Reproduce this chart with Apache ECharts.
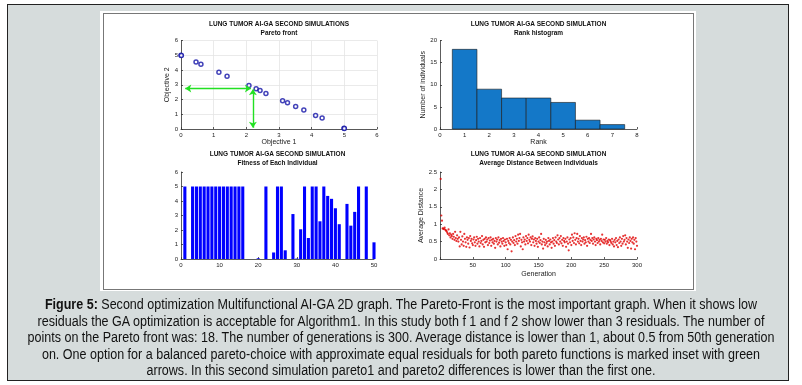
<!DOCTYPE html>
<html><head><meta charset="utf-8">
<script src="https://cdn.jsdelivr.net/npm/echarts@6/dist/echarts.min.js"></script>
<style>
html,body{margin:0;padding:0;background:#fff;}
#wrap{position:relative;width:802px;height:385px;overflow:hidden;}
#outer{position:absolute;left:7px;top:4px;width:780px;height:375px;background:#d6dcdc;border:1.5px solid #222;}
#white{position:absolute;left:100px;top:11px;width:596px;height:280px;background:#fff;}
#inner{position:absolute;left:103px;top:13px;width:589px;height:275px;border:1px solid #777;}
#c{position:absolute;left:0;top:0;width:802px;height:385px;}
#cap{position:absolute;left:-99px;top:296px;width:1000px;text-align:center;white-space:nowrap;font-family:"Liberation Sans",Arial,sans-serif;font-size:14px;line-height:16.5px;color:#111;transform:scaleX(0.895);transform-origin:50% 0;}
</style>
</head><body>
<div id="wrap"><div id="outer"></div><div id="white"></div><div id="inner"></div><div id="c"></div><div id="cap"></div></div>
<script>
// ---- data ----
const paretoF1 = [0, 0.01, 0.46, 0.61, 1.16, 1.41, 2.08, 2.30, 2.42, 2.60, 3.11, 3.26, 3.51, 3.76, 4.12, 4.32, 4.99, 5.0];
const paretoF2 = [5.0, 4.99, 4.55, 4.39, 3.85, 3.58, 2.95, 2.73, 2.61, 2.41, 1.91, 1.78, 1.53, 1.28, 0.92, 0.74, 0.05, 0.03];
const arrowHorizontal = [[0.13, 2.75], [2.14, 2.75]];
const arrowVertical = [[2.2, 2.7], [2.2, 0.08]];
const rankValues = [1, 2, 3, 4, 5, 6, 7];
const rankCounts = [18, 9, 7, 7, 6, 2, 1];
const fitnessIndex = [1,2,3,4,5,6,7,8,9,10,11,12,13,14,15,16,17,18,19,20,21,22,23,24,25,26,27,28,29,30,31,32,33,34,35,36,37,38,39,40,41,42,43,44,45,46,47,48,49,50];
const fitnessValues = [5,0,5,5,5,5,5,5,5,5,5,5,5,5,5,5,0,0,0,0.05,0,5,0,0.45,5,5,0.6,0,3.1,0.03,2.05,5,1.45,5,5,2.6,5,4.35,4.15,3.5,2.4,0,3.8,2.3,3.25,5,0,5,0,1.15];
const avgDistance = [
2.3,1.25,1.1,0.88,0.87,0.86,0.9,0.84,0.82,0.8,
0.76,0.72,0.85,0.68,0.74,0.62,0.7,0.66,0.58,0.72,
0.64,0.55,0.78,0.6,0.52,0.68,0.58,0.5,0.62,0.36,
0.78,0.55,0.42,0.65,0.5,0.38,0.72,0.58,0.48,0.35,
0.62,0.55,0.44,0.6,0.33,0.66,0.52,0.58,0.45,0.4,
0.56,0.62,0.48,0.38,0.54,0.64,0.44,0.58,0.5,0.36,
0.6,0.46,0.52,0.66,0.42,0.55,0.35,0.58,0.48,0.62,
0.5,0.56,0.4,0.6,0.46,0.53,0.62,0.38,0.55,0.48,
0.58,0.44,0.52,0.32,0.6,0.5,0.56,0.42,0.62,0.47,
0.54,0.36,0.58,0.5,0.44,0.6,0.52,0.38,0.56,0.48,
0.4,0.58,0.28,0.52,0.46,0.6,0.42,0.55,0.22,0.5,
0.62,0.46,0.54,0.4,0.66,0.5,0.58,0.44,0.7,0.52,
0.6,0.72,0.36,0.55,0.48,0.28,0.62,0.5,0.56,0.42,
0.66,0.52,0.6,0.45,0.7,0.55,0.5,0.62,0.4,0.58,
0.65,0.48,0.56,0.38,0.6,0.52,0.44,0.58,0.35,0.5,
0.62,0.46,0.54,0.72,0.42,0.5,0.3,0.58,0.48,0.4,
0.55,0.45,0.5,0.36,0.6,0.52,0.42,0.56,0.48,0.32,
0.5,0.6,0.44,0.54,0.38,0.62,0.5,0.46,0.68,0.56,
0.42,0.6,0.5,0.66,0.45,0.55,0.38,0.6,0.52,0.48,
0.58,0.35,0.5,0.62,0.44,0.25,0.56,0.48,0.6,0.4,
0.7,0.52,0.62,0.46,0.74,0.55,0.42,0.6,0.72,0.5,
0.58,0.45,0.66,0.52,0.4,0.6,0.5,0.56,0.62,0.44,
0.54,0.48,0.64,0.38,0.58,0.5,0.6,0.46,0.55,0.72,
0.52,0.6,0.44,0.56,0.62,0.5,0.4,0.58,0.54,0.46,
0.6,0.5,0.55,0.42,0.58,0.52,0.7,0.48,0.56,0.45,
0.55,0.5,0.6,0.44,0.52,0.48,0.56,0.4,0.54,0.5,
0.46,0.58,0.42,0.5,0.36,0.55,0.48,0.6,0.4,0.52,
0.34,0.56,0.46,0.62,0.5,0.38,0.58,0.44,0.66,0.5,
0.55,0.68,0.42,0.6,0.5,0.32,0.56,0.46,0.62,0.52,
0.3,0.58,0.48,0.62,0.44,0.55,0.28,0.6,0.5,0.38];
const titleMain = 'LUNG TUMOR AI-GA SECOND SIMULATION';
const titleMainPareto = 'LUNG TUMOR AI-GA SECOND SIMULATIONS';
const subTitles = ['Pareto front', 'Rank histogram', 'Fitness of Each Individual', 'Average Distance Between Individuals'];
const captionLabel = 'Figure 5:';
const captionLines = [
 ' Second optimization Multifunctional AI-GA 2D graph. The Pareto-Front is the most important graph. When it shows low',
 'residuals the GA optimization is acceptable for Algorithm1. In this study both f 1 and f 2 show lower than 3 residuals. The number of',
 'points on the Pareto front was: 18. The number of generations is 300. Average distance is lower than 1, about 0.5 from 50th generation',
 'on. One option for a balanced pareto-choice with approximate equal residuals for both pareto functions is marked inset with green',
 'arrows. In this second simulation pareto1 and pareto2 differences is lower than the first one.'];

// ---- caption ----
const esc = s => s.replace(/&/g,'&amp;').replace(/</g,'&lt;');
document.getElementById('cap').innerHTML = '<b>' + esc(captionLabel) + '</b>' + captionLines.map(esc).join('<br>');

// ---- chart ----
const FONT = '"Liberation Sans", Arial, sans-serif';
const AX = '#333';
function axisCommon(extra) {
  return Object.assign({
    axisLine: {show: true, onZero: false, lineStyle: {color: AX, width: 0.8}},
    axisTick: {show: true, inside: true, length: 2, lineStyle: {color: AX, width: 0.8}},
    axisLabel: {fontSize: 6, color: '#222', fontFamily: FONT, margin: 3},
    splitLine: {show: false},
    nameLocation: 'middle',
    nameTextStyle: {fontSize: 7, color: '#222', fontFamily: FONT}
  }, extra);
}
function rectItem(halfW, color, stroke) {
  return function (params, api) {
    const x = api.value(0), y = api.value(1);
    if (y <= 0) return null;
    const p0 = api.coord([x - halfW, 0]);
    const p1 = api.coord([x + halfW, y]);
    return {type: 'rect', shape: {x: p0[0], y: p1[1], width: p1[0] - p0[0], height: p0[1] - p1[1]},
      style: {fill: color, stroke: stroke || null, lineWidth: stroke ? 0.6 : 0}};
  };
}
const grids = [
  {left: 181, top: 40.5, width: 196, height: 88.5},
  {left: 440, top: 40.5, width: 197, height: 88.5},
  {left: 181, top: 172, width: 193, height: 87},
  {left: 440, top: 172, width: 197, height: 87}
];
const centers = grids.map(g => g.left + g.width / 2);
const titleTops = [21, 21, 151, 151];
const titles = grids.map((g, i) => ({
  text: i === 0 ? titleMainPareto : titleMain,
  subtext: subTitles[i],
  left: centers[i], top: titleTops[i], textAlign: 'center', padding: 0, itemGap: 1.5,
  textStyle: {fontSize: 6.5, fontWeight: 'bold', color: '#111', fontFamily: FONT},
  subtextStyle: {fontSize: 6.5, fontWeight: 'bold', color: '#111', fontFamily: FONT}
}));

const option = {
  animation: false,
  title: titles,
  grid: grids,
  xAxis: [
    axisCommon({gridIndex: 0, type: 'value', min: 0, max: 6, interval: 1, name: 'Objective 1', nameGap: 10,
      splitLine: {show: true, lineStyle: {color: '#e4e4e4', width: 0.8}}}),
    axisCommon({gridIndex: 1, type: 'value', min: 0, max: 8, interval: 1, name: 'Rank', nameGap: 10}),
    axisCommon({gridIndex: 2, type: 'value', min: 0, max: 50, interval: 10}),
    axisCommon({gridIndex: 3, type: 'value', min: 0, max: 300, interval: 50, name: 'Generation', nameGap: 12,
      axisLabel: {fontSize: 6, color: '#222', fontFamily: FONT, margin: 3, formatter: v => v === 0 ? '' : v}})
  ],
  yAxis: [
    axisCommon({gridIndex: 0, type: 'value', min: 0, max: 6, interval: 1, name: 'Objective 2', nameGap: 9,
      splitLine: {show: true, lineStyle: {color: '#e4e4e4', width: 0.8}}}),
    axisCommon({gridIndex: 1, type: 'value', min: 0, max: 20, interval: 5, name: 'Number of individuals', nameGap: 12}),
    axisCommon({gridIndex: 2, type: 'value', min: 0, max: 6, interval: 1}),
    axisCommon({gridIndex: 3, type: 'value', min: 0, max: 2.5, interval: 0.5, name: 'Average Distance', nameGap: 13})
  ],
  series: [
    {type: 'scatter', xAxisIndex: 0, yAxisIndex: 0, symbol: 'circle', symbolSize: 4,
      itemStyle: {color: '#fff', borderColor: '#1414a8', borderWidth: 1.5},
      data: paretoF1.map((v, i) => [v, paretoF2[i]]), z: 3},
    {type: 'lines', coordinateSystem: 'cartesian2d', xAxisIndex: 0, yAxisIndex: 0, symbol: ['arrow', 'arrow'], symbolSize: 6,
      lineStyle: {color: '#22e022', width: 1.4, opacity: 1}, z: 4,
      data: [{coords: arrowHorizontal}, {coords: arrowVertical}]},
    {type: 'custom', xAxisIndex: 1, yAxisIndex: 1, renderItem: rectItem(0.5, '#1478c8', '#1a1a1a'),
      data: rankValues.map((v, i) => [v, rankCounts[i]])},
    {type: 'custom', xAxisIndex: 2, yAxisIndex: 2, renderItem: rectItem(0.4, '#0000ff'),
      data: fitnessIndex.map((v, i) => [v, fitnessValues[i]])},
    {type: 'scatter', xAxisIndex: 3, yAxisIndex: 3, symbol: 'circle', symbolSize: 2.2,
      itemStyle: {color: '#e00000'},
      data: avgDistance.map((v, i) => [i + 1, v])}
  ]
};
const chart = echarts.init(document.getElementById('c'), null, {renderer: 'canvas'});
chart.setOption(option);
</script>
</body></html>
